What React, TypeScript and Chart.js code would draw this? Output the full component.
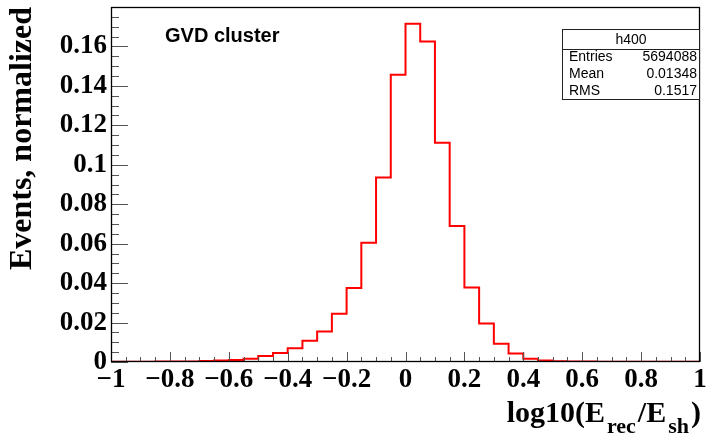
import React, { useEffect, useRef } from 'react';
import { Chart, registerables } from 'chart.js';

Chart.register(...registerables);

// Histogram bin edges (41 edges, 40 bins)
const binEdges = [
  -1.0, -0.95, -0.9, -0.85, -0.8, -0.75, -0.7, -0.65, -0.6, -0.55,
  -0.5, -0.45, -0.4, -0.35, -0.3, -0.25, -0.2, -0.15, -0.1, -0.05,
  0.0, 0.05, 0.1, 0.15, 0.2, 0.25, 0.3, 0.35, 0.4, 0.45,
  0.5, 0.55, 0.6, 0.65, 0.7, 0.75, 0.8, 0.85, 0.9, 0.95, 1.0,
];

// Normalized bin contents
const binValues = [
  0.0001, 0.0001, 0.0001, 0.0002, 0.0003, 0.0003, 0.0005, 0.0007, 0.001, 0.0017,
  0.003, 0.0046, 0.007, 0.0108, 0.0155, 0.0245, 0.0375, 0.0605, 0.0935, 0.1457,
  0.1715, 0.1625, 0.1112, 0.069, 0.0378, 0.0195, 0.0093, 0.0043, 0.0017, 0.0008,
  0.0004, 0.0003, 0.0002, 0.0001, 0.0001, 0.0001, 0.0001, 0.0001, 0.0001, 0.0001,
];

const xMajorTicks = [-1, -0.8, -0.6, -0.4, -0.2, 0, 0.2, 0.4, 0.6, 0.8, 1];
const yMajorTicks = [0, 0.02, 0.04, 0.06, 0.08, 0.1, 0.12, 0.14, 0.16];
const xMinorStep = 0.05;
const yMinorStep = 0.005;

const statsTitle = 'h400';
const statsLabels = ['Entries', 'Mean', 'RMS'];
const statsValues = ['5694088', '0.01348', '0.1517'];

const plotLabel = 'GVD cluster';
const yTitle = 'Events, normalized';

const fmt = (v: number) => {
  if (Math.abs(v) < 1e-9) return '0';
  const s = String(parseFloat(v.toFixed(3)));
  return s.replace('-', '\u2212');
};

const overlayPlugin = {
  id: 'rootOverlay',
  afterDraw(chart: any) {
    const { ctx, chartArea } = chart;
    const { left, right, top, bottom } = chartArea;
    const xs = chart.scales.x;
    const ys = chart.scales.y;
    ctx.save();

    // axis ticks
    ctx.strokeStyle = '#555';
    ctx.lineWidth = 1;
    ctx.beginPath();
    const yMax = ys.max;
    for (let k = 0; k * yMinorStep <= yMax + 1e-9; k++) {
      const v = k * yMinorStep;
      const py = Math.round(ys.getPixelForValue(v)) + 0.5;
      const major = k % 4 === 0;
      ctx.moveTo(left, py);
      ctx.lineTo(left + (major ? 17 : 8), py);
    }
    for (let k = 0; k * xMinorStep <= 2 + 1e-9; k++) {
      const v = -1 + k * xMinorStep;
      const px = Math.round(xs.getPixelForValue(v)) + 0.5;
      const major = k % 4 === 0;
      ctx.moveTo(px, bottom);
      ctx.lineTo(px, bottom - (major ? 10 : 5));
    }
    ctx.stroke();

    // frame
    ctx.strokeStyle = '#000';
    ctx.lineWidth = 1.3;
    ctx.strokeRect(left + 0.5, top + 0.5, right - left - 1, bottom - top - 1);

    // label
    ctx.fillStyle = '#000';
    ctx.font = 'bold 20px "Liberation Sans"';
    ctx.textAlign = 'left';
    ctx.textBaseline = 'alphabetic';
    ctx.fillText(plotLabel, 165, 41.5);

    // stats box
    const bx = 562, by = 29.5, bw = 138, bh = 70;
    ctx.fillStyle = '#fff';
    ctx.fillRect(bx, by, bw, bh);
    ctx.strokeStyle = '#222';
    ctx.lineWidth = 1;
    ctx.strokeRect(bx + 0.5, by, bw - 1, bh);
    ctx.beginPath();
    ctx.moveTo(bx, by + 20);
    ctx.lineTo(bx + bw, by + 20);
    ctx.stroke();
    ctx.fillStyle = '#000';
    ctx.font = '14px "Liberation Sans"';
    ctx.textAlign = 'center';
    ctx.fillText(statsTitle, bx + bw / 2, 44);
    statsLabels.forEach((lab, i) => {
      const yb = 60.7 + i * 17.2;
      ctx.textAlign = 'left';
      ctx.fillText(lab, bx + 7, yb);
      ctx.textAlign = 'right';
      ctx.fillText(statsValues[i], bx + bw - 3, yb);
    });

    // x axis title with subscripts
    const mainFont = 'bold 30px "Liberation Serif"';
    const subFont = 'bold 22px "Liberation Serif"';
    const pieces: [string, boolean][] = [
      ['log10(E', false],
      ['rec', true],
      ['/E', false],
      ['sh', true],
      [')', false],
    ];
    let total = 0;
    const widths = pieces.map(([t, sub]) => {
      ctx.font = sub ? subFont : mainFont;
      const w = ctx.measureText(t).width + 2;
      total += w;
      return w;
    });
    let cx = 703 - total;
    ctx.textAlign = 'left';
    pieces.forEach(([t, sub], i) => {
      ctx.font = sub ? subFont : mainFont;
      ctx.fillText(t, cx, sub ? 433 : 422);
      cx += widths[i];
    });

    ctx.restore();
  },
};

export default function App() {
  const ref = useRef<HTMLCanvasElement | null>(null);

  useEffect(() => {
    if (!ref.current) return;
    const points = binEdges.map((e, i) => ({
      x: e,
      y: binValues[Math.min(i, binValues.length - 1)],
    }));
    const tickFont = { family: '"Liberation Serif"', weight: 'bold' as const, size: 27 };
    const chart = new Chart(ref.current, {
      type: 'line',
      data: {
        datasets: [
          {
            data: points,
            stepped: 'before',
            borderColor: '#ff0000',
            borderWidth: 2,
            pointRadius: 0,
            fill: false,
            tension: 0,
          },
        ],
      },
      options: {
        animation: false,
        responsive: false,
        devicePixelRatio: 1,
        layout: { padding: { left: 0, top: 7, right: 7, bottom: 0 }, autoPadding: false },
        plugins: { legend: { display: false }, tooltip: { enabled: false } },
        scales: {
          x: {
            type: 'linear',
            min: -1,
            max: 1,
            grid: { display: false, drawTicks: false },
            border: { display: false },
            ticks: {
              color: '#000',
              font: tickFont,
              padding: 2,
              maxRotation: 0,
              autoSkip: false,
              callback: (v: any) => fmt(Number(v)),
            },
            afterBuildTicks: (s: any) => {
              s.ticks = xMajorTicks.map((v) => ({ value: v }));
            },
            afterFit: (s: any) => {
              s.height = 77;
              s.paddingLeft = 0;
              s.paddingRight = 0;
            },
          },
          y: {
            type: 'linear',
            min: 0,
            max: 0.18,
            grid: { display: false, drawTicks: false },
            border: { display: false },
            title: {
              display: true,
              text: yTitle,
              align: 'end',
              color: '#000',
              font: { family: '"Liberation Serif"', weight: 'bold', size: 32 },
              padding: { top: 4, bottom: 0 },
            },
            ticks: {
              color: '#000',
              font: tickFont,
              padding: 4,
              autoSkip: false,
              callback: (v: any) => fmt(Number(v)),
            },
            afterBuildTicks: (s: any) => {
              s.ticks = yMajorTicks.map((v) => ({ value: v }));
            },
            afterFit: (s: any) => {
              s.width = 111;
              s.paddingTop = 0;
              s.paddingBottom = 0;
            },
          },
        },
      },
      plugins: [overlayPlugin],
    });
    return () => chart.destroy();
  }, []);

  return (
    <div style={{ position: 'absolute', left: 0, top: 0, width: 707, height: 439, background: '#fff' }}>
      <canvas ref={ref} width={707} height={439} style={{ display: 'block' }} />
    </div>
  );
}
